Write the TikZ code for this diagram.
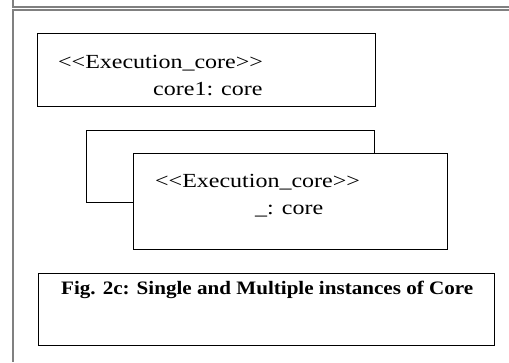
\documentclass[tikz,border=0pt]{standalone}
\usepackage{fontspec}
\newfontfamily\umlfont[FakeStretch=1.2]{Liberation Serif}
\newfontfamily\capfont[FakeStretch=1.11]{Liberation Serif}
\begin{document}
\begin{tikzpicture}[x=1pt,y=-1pt,
  frame/.style={draw=black!50,line width=1.4pt},
  obj/.style={draw=black,line width=1.2pt,fill=white,rectangle,inner sep=0pt,anchor=north west},
  capbox/.style={draw=black,line width=0.9pt,rectangle,inner sep=0pt,anchor=north west},
  lbl/.style={anchor=base west,inner sep=0pt,font=\umlfont\fontsize{20}{22}\selectfont},
  caplbl/.style={anchor=base west,inner sep=0pt,font=\capfont\bfseries\fontsize{19}{21}\selectfont}]
\useasboundingbox (0,0) rectangle (509,362);
% page frame
\draw[frame] (13,0) -- (13,7) -- (509,7);
\draw[frame] (509,10) -- (13,10) -- (13,362);
% single instance
\node[obj,minimum width=338pt,minimum height=73pt] (core1) at (37,33) {};
\node[lbl] (st1) at (58,68) {<<Execution\_core>>};
\node[lbl] (nm1) at (153,95) {core1: core};
% multiple instances: stacked boxes
\node[obj,minimum width=288pt,minimum height=72pt] (coreb) at (86,130) {};
\node[obj,minimum width=314pt,minimum height=96pt] (coref) at (133,153) {};
\node[lbl] (st2) at (155,187) {<<Execution\_core>>};
\node[lbl] (nm2) at (255,214) {\_: core};
% caption
\node[capbox,minimum width=456pt,minimum height=72pt] (cap) at (38,273) {};
\node[caplbl] (captxt) at (61,294) {Fig. 2c: Single and Multiple instances of Core};
\end{tikzpicture}
\end{document}
